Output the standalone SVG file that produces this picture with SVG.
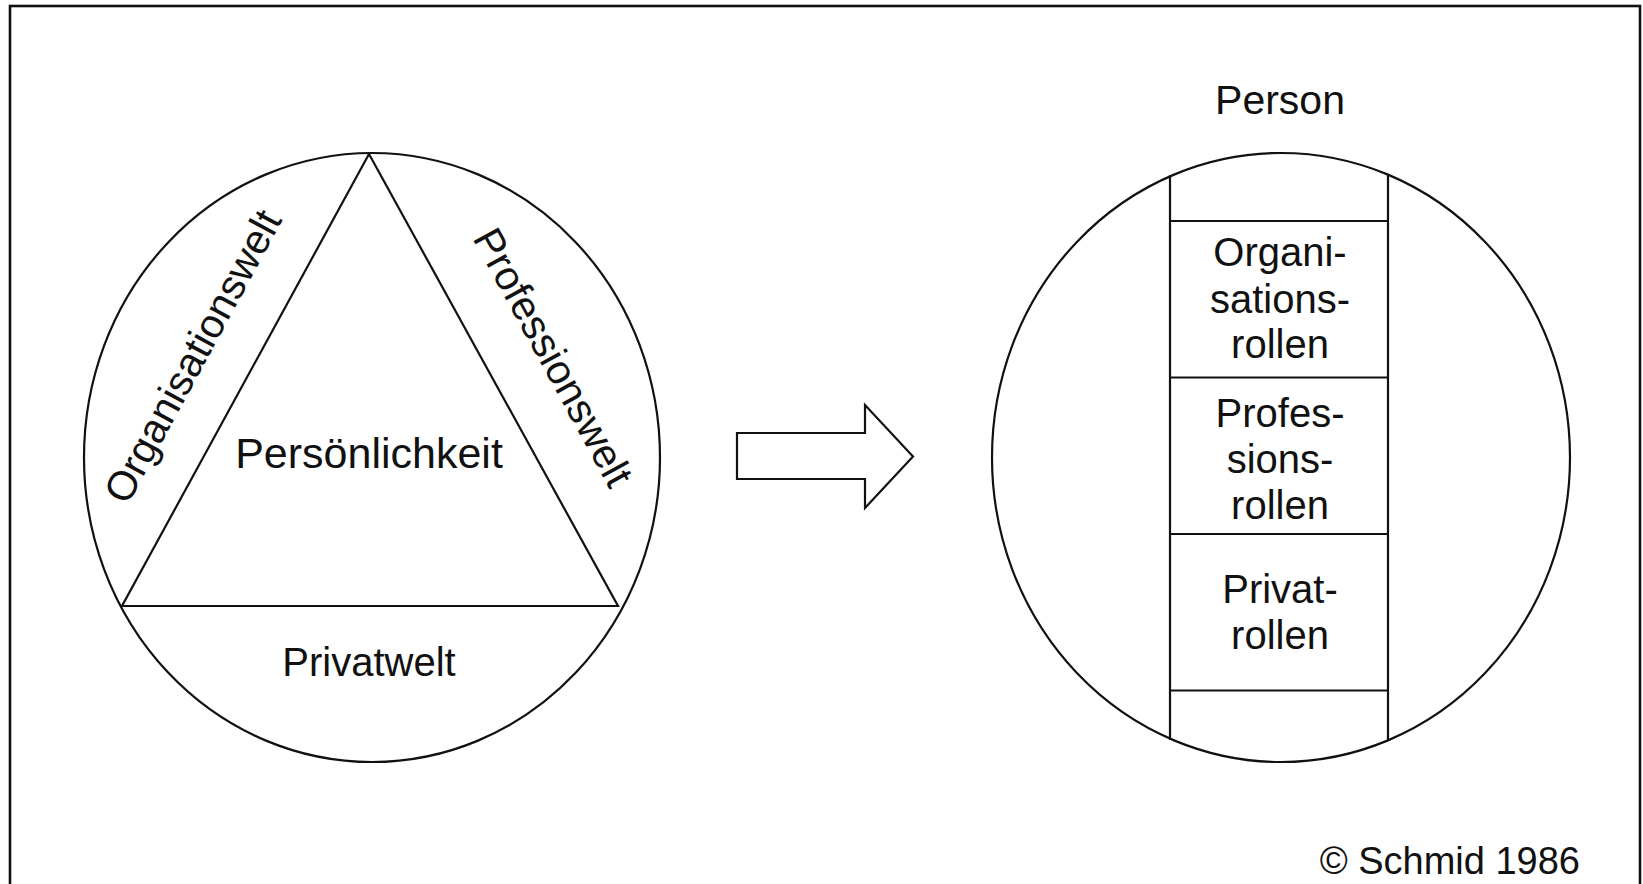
<svg xmlns="http://www.w3.org/2000/svg" width="1643" height="884" viewBox="0 0 1643 884">
  <style>
    .ln { fill: none; stroke: #111; stroke-width: 2.2; }
    .fr { fill: none; stroke: #111; stroke-width: 2.6; }
    .tx { font-family: "Liberation Sans", Arial, sans-serif; fill: #111; text-anchor: middle; }
  </style>
  <rect x="0" y="0" width="1643" height="884" fill="#fff"/>
  <rect class="fr" x="10" y="6" width="1630" height="900"/>

  <g id="node-persoenlichkeit">
    <ellipse class="ln" cx="372" cy="457.5" rx="288" ry="304.5"/>
    <polygon class="ln" points="369,154 122,606 618,606"/>
    <text class="tx" x="369" y="468" font-size="43">Persönlichkeit</text>
    <text class="tx" x="369" y="676" font-size="40">Privatwelt</text>
    <text class="tx" font-size="41" transform="translate(205,363) rotate(-61.5)">Organisationswelt</text>
    <text class="tx" font-size="41" transform="translate(541,364) rotate(61.3)">Professionswelt</text>
  </g>

  <g id="connectors">
    <polygon class="ln" points="737,433 865,433 865,405 913,456.5 865,508 865,479 737,479"/>
  </g>

  <g id="node-person">
    <text class="tx" x="1280" y="114" font-size="41">Person</text>
    <ellipse class="ln" cx="1281" cy="457.5" rx="289" ry="304.5"/>
    <line class="ln" x1="1170" y1="175" x2="1170" y2="740"/>
    <line class="ln" x1="1388" y1="175" x2="1388" y2="740"/>
    <line class="ln" x1="1170" y1="221" x2="1388" y2="221"/>
    <line class="ln" x1="1170" y1="377.5" x2="1388" y2="377.5"/>
    <line class="ln" x1="1170" y1="534" x2="1388" y2="534"/>
    <line class="ln" x1="1170" y1="690.5" x2="1388" y2="690.5"/>
    <g id="cell-organisationsrollen">
      <text class="tx" x="1280" y="266" font-size="40">Organi-</text>
      <text class="tx" x="1280" y="313" font-size="40">sations-</text>
      <text class="tx" x="1280" y="358" font-size="40">rollen</text>
    </g>
    <g id="cell-professionsrollen">
      <text class="tx" x="1280" y="427" font-size="40">Profes-</text>
      <text class="tx" x="1280" y="473" font-size="40">sions-</text>
      <text class="tx" x="1280" y="519" font-size="40">rollen</text>
    </g>
    <g id="cell-privatrollen">
      <text class="tx" x="1280" y="603" font-size="40">Privat-</text>
      <text class="tx" x="1280" y="649" font-size="40">rollen</text>
    </g>
  </g>

  <text class="tx" x="1580" y="874" font-size="38" style="text-anchor:end">© Schmid 1986</text>
</svg>
